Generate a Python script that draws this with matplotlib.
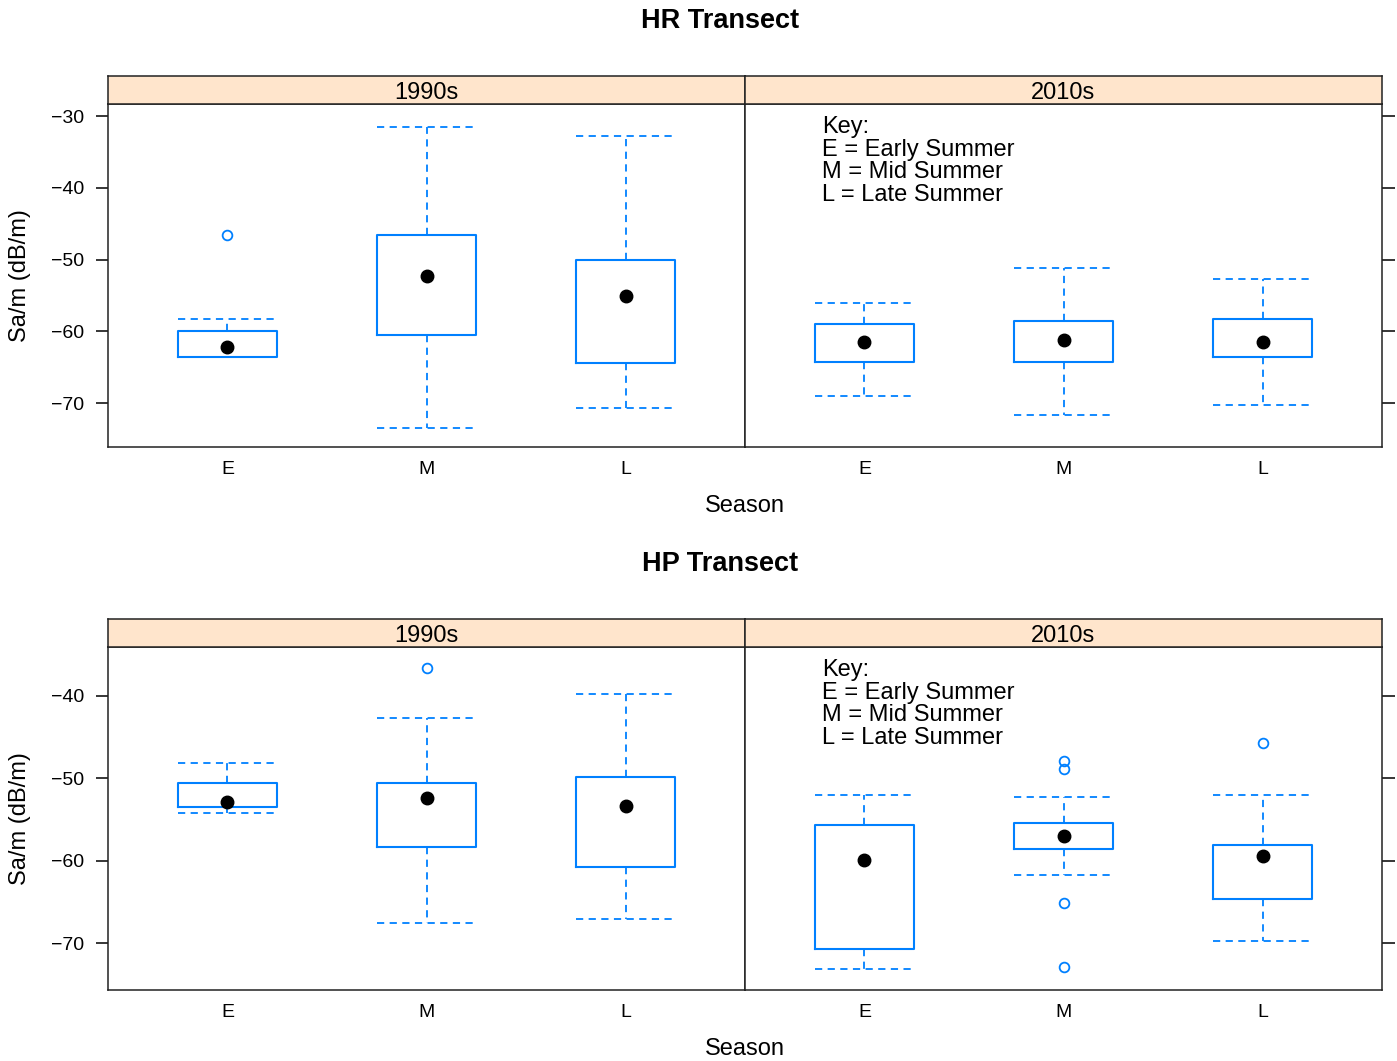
import matplotlib
matplotlib.use("Agg")
import matplotlib.pyplot as plt

plt.rcParams['font.family'] = ['Liberation Sans', 'DejaVu Sans']

seasons = ["E", "M", "L"]
decades = ["1990s", "2010s"]
key_text = "Key:\nE = Early Summer\nM = Mid Summer\nL = Late Summer"

# HR transect, one value per season (E, M, L)
hr_1990_med = [-62.1, -52.3, -55.1]
hr_1990_q1 = [-63.5, -60.5, -64.4]
hr_1990_q3 = [-60.0, -46.6, -50.1]
hr_1990_lo = [-63.6, -73.5, -70.6]
hr_1990_hi = [-58.3, -31.5, -32.8]
hr_1990_out = [[-46.6], [], []]

hr_2010_med = [-61.5, -61.2, -61.5]
hr_2010_q1 = [-64.2, -64.2, -63.6]
hr_2010_q3 = [-58.9, -58.6, -58.3]
hr_2010_lo = [-69.0, -71.7, -70.3]
hr_2010_hi = [-56.1, -51.1, -52.7]
hr_2010_out = [[], [], []]

# HP transect
hp_1990_med = [-52.9, -52.4, -53.4]
hp_1990_q1 = [-53.5, -58.3, -60.8]
hp_1990_q3 = [-50.6, -50.6, -49.8]
hp_1990_lo = [-54.2, -67.6, -67.1]
hp_1990_hi = [-48.1, -42.7, -39.8]
hp_1990_out = [[], [-36.6], []]

hp_2010_med = [-59.9, -57.0, -59.4]
hp_2010_q1 = [-70.7, -58.6, -64.7]
hp_2010_q3 = [-55.7, -55.4, -58.1]
hp_2010_lo = [-73.2, -61.7, -69.8]
hp_2010_hi = [-52.0, -52.3, -52.0]
hp_2010_out = [[], [-47.9, -48.9, -65.1, -72.9], [-45.7]]

BLUE = "#0080ff"
STRIP = "#ffe5cc"
W, H = 1397, 1061


def px_axes(fig, x0, y0, x1, y1):
    return fig.add_axes([x0 / W, 1 - y1 / H, (x1 - x0) / W, (y1 - y0) / H])


def make_stats(med, q1, q3, lo, hi, out):
    stats = []
    for i in range(len(med)):
        stats.append(dict(med=med[i], q1=q1[i], q3=q3[i],
                          whislo=lo[i], whishi=hi[i], fliers=out[i]))
    return stats


def draw_transect(fig, top, title, panels, ylim, yticks):
    strip_top = top
    plot_top = top + 28
    plot_bot = top + 371
    xs = [108, 745, 1382]

    fig.text(720 / W, 1 - (top - 55) / H, title, ha='center', va='center',
             fontsize=19.5, fontweight='bold')

    for j, (dec, data) in enumerate(zip(decades, panels)):
        ax = px_axes(fig, xs[j], plot_top, xs[j + 1], plot_bot)
        ax.bxp(make_stats(*data), positions=[1, 2, 3], widths=0.5,
               capwidths=0.5, manage_ticks=False,
               boxprops=dict(color=BLUE, lw=1.5),
               whiskerprops=dict(color=BLUE, lw=1.3, ls=(0, (4, 3))),
               capprops=dict(color=BLUE, lw=1.3, ls=(0, (4, 3))),
               medianprops=dict(visible=False),
               flierprops=dict(marker='o', mfc='none', mec=BLUE, ms=7,
                               mew=1.3, ls='none'))
        ax.plot([1, 2, 3], data[0], 'o', color='black', ms=9, zorder=5)
        ax.set_xlim(0.4, 3.6)
        ax.set_ylim(*ylim)
        ax.set_xticks([1, 2, 3])
        ax.set_xticklabels(seasons)
        ax.set_yticks(yticks)
        ax.tick_params(axis='x', length=0, pad=10, labelsize=14)
        if j == 0:
            ax.tick_params(axis='y', left=True, right=False, labelleft=True,
                           length=9, width=1.1, pad=8, labelsize=14)
        else:
            ax.tick_params(axis='y', left=False, right=True, labelleft=False,
                           length=9, width=1.1)
            fig.text(822 / W, 1 - (top + 40) / H, key_text, ha='left',
                     va='top', fontsize=17, linespacing=1.04)
        for sp in ax.spines.values():
            sp.set_linewidth(1.1)
            sp.set_color('#222222')

        sax = px_axes(fig, xs[j], strip_top, xs[j + 1], plot_top)
        sax.set_facecolor(STRIP)
        sax.set_xticks([])
        sax.set_yticks([])
        for sp in sax.spines.values():
            sp.set_linewidth(1.1)
            sp.set_color('#222222')
        sax.text(0.5, 0.4, dec, ha='center', va='center', fontsize=17,
                 transform=sax.transAxes)

    fig.text(745 / W, 1 - (top + 430) / H, "Season", ha='center',
             va='center', fontsize=17)
    fig.text(20 / W, 1 - (top + 200) / H, "Sa/m (dB/m)", ha='center',
             va='center', rotation=90, fontsize=17)


fig = plt.figure(figsize=(W / 100, H / 100), dpi=100)

draw_transect(fig, 76, "HR Transect",
              [(hr_1990_med, hr_1990_q1, hr_1990_q3, hr_1990_lo, hr_1990_hi, hr_1990_out),
               (hr_2010_med, hr_2010_q1, hr_2010_q3, hr_2010_lo, hr_2010_hi, hr_2010_out)],
              (-76.1, -28.3), [-30, -40, -50, -60, -70])

draw_transect(fig, 619, "HP Transect",
              [(hp_1990_med, hp_1990_q1, hp_1990_q3, hp_1990_lo, hp_1990_hi, hp_1990_out),
               (hp_2010_med, hp_2010_q1, hp_2010_q3, hp_2010_lo, hp_2010_hi, hp_2010_out)],
              (-75.7, -34.05), [-40, -50, -60, -70])

fig.savefig("out.png", dpi=100)
